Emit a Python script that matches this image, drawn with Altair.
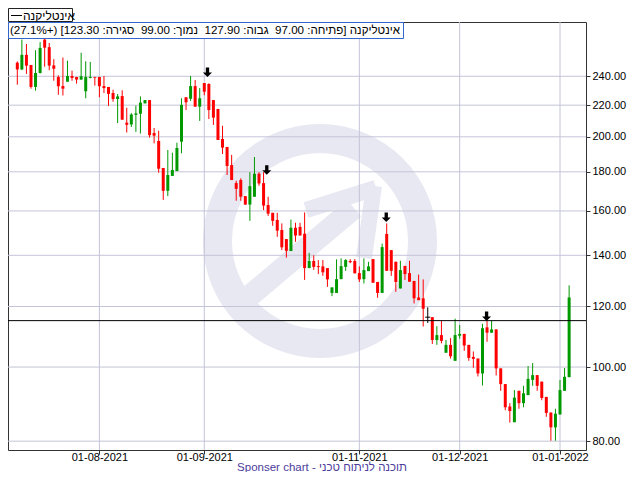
import altair as alt
import pandas as pd
import numpy as np

# ---------------- data ----------------
opens = [250, 245, 256, 248.3, 232.4, 242.4, 268, 262, 248, 239.5,
         233, 236.1, 240.2, 239.5, 237.6, 229.4, 238.8, 239.5, 239.5, 233,
         232.4, 228.2, 224.1, 226.1, 208.7, 207.6, 213.7, 214.4, 221.2, 223.4,
         202.3, 197.5, 182.1, 170, 177.8, 180.4, 197.1, 225.3, 224.3, 233,
         219, 235.2, 234.5, 223.4, 217.5, 198.7, 194, 183.7, 174, 175.6,
         167.3, 163.1, 167, 179, 174, 162.9, 159.1, 155.7, 151.1, 147,
         141.8, 152.1, 152.5, 149.4, 134.7, 137.6, 135.5, 135.4, 134.7, 125,
         125, 130.3, 135.2, 137.6, 137.6, 132.7, 130.3, 133.5, 138.4, 129.2,
         125, 149.3, 142.2, 137.3, 126.7, 135.6, 132.7, 129.6, 123.3, 123,
         116.2, 116.2, 108.5, 110.1, 104.4, 106.9, 101.9, 109.9, 110.5, 106.9,
         103.1, 102.6, 98.1, 112.7, 110.9, 112, 99.6, 95, 88.8, 84.7,
         93.1, 89.7, 91.9, 96.2, 97.6, 95.7, 91.4, 87.2, 83.4, 86.7,
         93.1, 97]
highs = [251, 268, 264.5, 248.3, 259.6, 266, 270, 265.3, 252.7, 240.7,
         253.9, 251.5, 244.1, 239.5, 257.6, 251.1, 250.6, 239.5, 239.5, 240.2,
         232.4, 230.5, 227.5, 230.1, 218.3, 214.8, 219.7, 225.9, 223.4, 223.4,
         205.4, 203.7, 182.1, 192.2, 190.7, 196.5, 224.6, 225.3, 240.2, 237.3,
         231.6, 235.2, 235, 223.4, 217.5, 206.8, 194, 189.4, 175.2, 176.5,
         167.3, 179.8, 188.2, 179.8, 179.8, 167, 159.1, 159.1, 154.1, 147,
         155.9, 154.4, 154.4, 159.3, 141, 140, 138, 138, 134.7, 127.1,
         138.3, 138.7, 138.4, 138.4, 138.4, 135.4, 138.7, 137.3, 138.4, 129.2,
         145, 154.1, 142.2, 137.3, 137.7, 135.6, 137.7, 129.6, 132.1, 130.2,
         119.7, 116.2, 113.1, 114.9, 108.5, 109.1, 115.7, 113.5, 110.5, 106.9,
         104.8, 102.6, 113.9, 115.2, 114.9, 112, 99.6, 95, 89.7, 93.3,
         93.1, 94.5, 100.3, 101.2, 97.6, 95.7, 91.4, 87.2, 88.2, 96.2,
         99.7, 127.9]
lows = [234, 244.5, 241.7, 231.2, 229.8, 242, 247, 244.4, 236.8, 227,
        226.5, 236.1, 236.8, 234.7, 237.6, 224.6, 238.5, 233.3, 225.3, 228.2,
        219.5, 222.3, 208.5, 210.6, 202.6, 206, 203, 202, 221.2, 199.5,
        196.1, 179.5, 165.4, 167.3, 177.8, 180.4, 190.3, 216.8, 222.8, 219,
        209.8, 226.7, 211, 207.3, 198.1, 189.9, 178.3, 175.6, 165, 165,
        163, 155.3, 167, 172.6, 160.4, 157.6, 153, 148, 142.2, 139,
        141.8, 145.8, 148.6, 130, 134.7, 134, 132.3, 131.6, 127.3, 123.8,
        125, 130.3, 133.6, 136.7, 132.6, 129.2, 128.6, 133.5, 128.9, 123.2,
        125, 133.6, 131.6, 125.4, 126.7, 130, 129.3, 121.1, 122.3, 113,
        114.2, 107.2, 106.9, 107.4, 104.4, 102.6, 101.9, 108.9, 105, 101.9,
        99.8, 97.2, 94.6, 107.9, 110.9, 97.5, 93.1, 87.8, 84.6, 84.7,
        88.2, 88.6, 91.9, 94.5, 93.1, 90.5, 86.1, 80.1, 80.1, 86.7,
        93.1, 97]
closes = [245, 256, 247.8, 232.4, 242.4, 261.4, 261.6, 247.8, 245.5, 232.9,
          231.2, 240.2, 238.8, 237.6, 240, 239.5, 239.5, 239, 232.9, 231.6,
          227.6, 224.1, 225.9, 210.6, 207.4, 213.9, 214.6, 221.7, 223.4, 201,
          200.7, 181.7, 170, 178.3, 181, 193.4, 220.2, 221.9, 233, 219,
          224.6, 229.1, 216.8, 211.9, 198.1, 193.6, 183.2, 175.6, 171, 167,
          163.1, 172.4, 179, 173.8, 162.6, 158.7, 155.3, 150.8, 143.4, 141.9,
          152.1, 148.6, 148.6, 134.7, 137.6, 135.2, 135.1, 133, 130.2, 127.1,
          130.3, 135.5, 138, 137.1, 132.6, 130.2, 133.9, 135.4, 128.9, 125,
          143.5, 133.6, 133.6, 129.2, 133.9, 132.3, 129.3, 123, 122.3, 119.2,
          116.2, 108.5, 110.1, 108.2, 106.9, 103.3, 110.1, 110.5, 106.7, 102.8,
          102.5, 98.1, 112.4, 110.9, 112, 99.6, 95, 88.6, 87.6, 91.2,
          89.7, 92.4, 96.5, 97.6, 94.5, 91.1, 87.1, 83.4, 86.9, 93.3,
          97.1, 123.3]

x_tick_idx = [18, 41, 75, 97, 119]
x_tick_lbl = ["01-08-2021", "01-09-2021", "01-11-2021", "01-12-2021", "01-01-2022"]
y_ticks = [80, 100, 120, 140, 160, 180, 200, 220, 240]
level_line = [115]
arrow_idx = [41.7, 54.7, 80.9, 102.9]
arrow_price = [243, 181, 157, 116.5]

legend_name = "אינטליקנה"
info_text = ("אינטליקנה [פתיחה: 97.00\u00a0 גבוה: 127.90\u00a0 נמוך: 99.00\u00a0 "
             "סגירה: 123.30] (+27.1%)")
footer_text = "Sponser chart - תוכנה לניתוח טכני"

# ---------------- styling ----------------
W, H = 578, 428
GRID = "#c4c4d8"
WM = "#e8e8f2"
FONT = "Liberation Sans"
UP, DOWN, FLAT = "#009900", "#ff0000", "#000000"

n = len(opens)
df = pd.DataFrame({"i": np.arange(n), "o": opens, "h": highs, "l": lows, "c": closes})
df["dir"] = np.where(df.c > df.o, "up", np.where(df.c < df.o, "down", "flat"))

xs = alt.Scale(domain=[-2.04, 124.7], nice=False, zero=False)
ys = alt.Scale(type="log", domain=[77.9, 282.6], nice=False, zero=False)

expr = "''"
for idx, lbl in reversed(list(zip(x_tick_idx, x_tick_lbl))):
    expr = f"datum.value == {idx} ? '{lbl}' : ({expr})"

x_axis = alt.Axis(values=x_tick_idx, labelExpr=expr, grid=False, domain=False,
                  ticks=True, tickSize=4, tickColor="#333333", labelFont=FONT,
                  labelFontSize=11, labelColor="#000000", labelPadding=-3, title=None)
y_axis = alt.Axis(orient="right", values=y_ticks, format=".2f", grid=False, domain=False,
                  ticks=True, tickSize=4, tickColor="#333333", labelFont=FONT,
                  labelFontSize=11, labelColor="#000000", labelPadding=2, title=None)

cscale = alt.Scale(domain=["up", "down", "flat"], range=[UP, DOWN, FLAT])


def X(f):
    return alt.X(f"{f}:Q", scale=xs, axis=x_axis)


def Y(f):
    return alt.Y(f"{f}:Q", scale=ys, axis=y_axis)


one = pd.DataFrame({"k": [0]})

# watermark (logo: ring with an up-right arrow)
ring = alt.Chart(one).mark_arc(radius=117, radius2=88, theta=0, theta2=6.2832,
                               color=WM).encode(x=alt.value(312), y=alt.value(219))
shaft = alt.Chart(one).mark_rule(strokeWidth=22, color=WM).encode(
    x=alt.value(238), y=alt.value(277), x2=alt.value(346), y2=alt.value(186))
armA = alt.Chart(one).mark_rule(strokeWidth=16, color=WM).encode(
    x=alt.value(368), y=alt.value(166), x2=alt.value(298), y2=alt.value(188))
armB = alt.Chart(one).mark_rule(strokeWidth=16, color=WM).encode(
    x=alt.value(366), y=alt.value(164), x2=alt.value(356), y2=alt.value(236))

vgrid = alt.Chart(pd.DataFrame({"i": x_tick_idx})).mark_rule(color=GRID, strokeWidth=1).encode(x=X("i"))
hgrid = alt.Chart(pd.DataFrame({"v": y_ticks})).mark_rule(color=GRID, strokeWidth=1).encode(y=Y("v"))

color = alt.Color("dir:N", scale=cscale, legend=None)
wicks = alt.Chart(df).mark_rule(strokeWidth=1).encode(x=X("i"), y=Y("l"), y2="h:Q", color=color)
bodies = alt.Chart(df).transform_filter("datum.dir != 'flat'").mark_rule(strokeWidth=3).encode(
    x=X("i"), y=Y("o"), y2="c:Q", color=color)
doji = alt.Chart(df).transform_filter("datum.dir == 'flat'").mark_tick(
    orient="horizontal", thickness=1, size=5, color=FLAT, opacity=1).encode(x=X("i"), y=Y("o"))

level = alt.Chart(pd.DataFrame({"v": level_line})).mark_rule(color="#000000", strokeWidth=1).encode(y=Y("v"))

arrow_path = "M-0.35,-1 L0.35,-1 L0.35,0.05 L0.95,0.05 L0,1 L-0.95,0.05 L-0.35,0.05 Z"
arrows = alt.Chart(pd.DataFrame({"i": arrow_idx, "p": arrow_price})).mark_point(
    shape=arrow_path, size=90, filled=True, color="#000000", opacity=1, strokeWidth=0
).encode(x=X("i"), y=Y("p"))

# info box + legend box + footer
info_box = alt.Chart(one).mark_rect(fill="#ffffff", stroke="#3366cc", strokeWidth=1).encode(
    x=alt.value(0.5), x2=alt.value(395.5), y=alt.value(0.5), y2=alt.value(16.5))
info = alt.Chart(one).mark_text(text="\u202b" + info_text + "\u202c", align="right",
                                baseline="middle", font=FONT, fontSize=11.6,
                                color="#000000").encode(x=alt.value(392), y=alt.value(9))
leg_box = alt.Chart(one).mark_rect(fill="#ffffff", stroke="#222222", strokeWidth=1).encode(
    x=alt.value(0.5), x2=alt.value(64.5), y=alt.value(-13.5), y2=alt.value(-0.5))
leg_line = alt.Chart(one).mark_rule(color="#000000", strokeWidth=1).encode(
    x=alt.value(3), x2=alt.value(14), y=alt.value(-6.5), y2=alt.value(-6.5))
leg_text = alt.Chart(one).mark_text(text=legend_name, align="left", baseline="middle",
                                    font=FONT, fontSize=12, color="#000000").encode(
    x=alt.value(15), y=alt.value(-6.5))
footer = alt.Chart(one).mark_text(text=footer_text, align="center", baseline="alphabetic",
                                  font=FONT, fontSize=11.5, color="#4b3c9c").encode(
    x=alt.value(314), y=alt.value(449.3))

chart = alt.layer(
    ring, shaft, armA, armB, vgrid, hgrid, wicks, bodies, doji, level, arrows,
    info_box, info, leg_box, leg_line, leg_text, footer
).properties(
    width=W, height=H, autosize="none",
    padding={"left": 0, "top": 14, "right": 46, "bottom": 22},
    background="#ffffff",
).configure_view(stroke="#333333", strokeWidth=1)

chart.save("out.html", embed_options={"renderer": "svg", "actions": False})
